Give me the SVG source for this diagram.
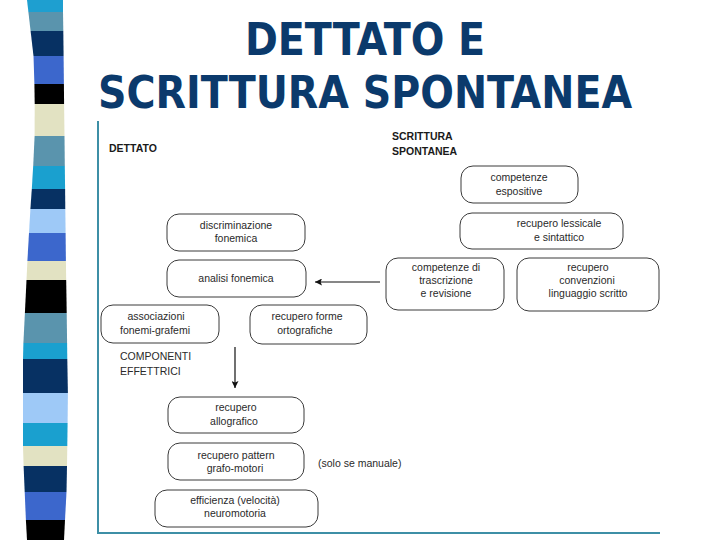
<svg xmlns="http://www.w3.org/2000/svg" width="720" height="540" viewBox="0 0 720 540">
<defs>
<style>
.title{font-family:"DejaVu Sans Condensed","Liberation Sans",Arial,sans-serif;font-weight:bold;font-size:44px;fill:#0b3a6c;text-anchor:middle}
.box{fill:#fff;stroke:#3a3a3a;stroke-width:1}
.t{font-family:"Liberation Sans",Arial,sans-serif;font-size:10.5px;fill:#2a2a2a;text-anchor:middle}
.h{font-family:"Liberation Sans",Arial,sans-serif;font-size:10.5px;font-weight:bold;fill:#1a1a1a}
.l{font-family:"Liberation Sans",Arial,sans-serif;font-size:10.5px;fill:#2a2a2a}
.conn{stroke:#111;stroke-width:1.2;fill:none}
.frame{stroke:#3d8fa6;stroke-width:2;fill:none}
</style>
<marker id="ah" viewBox="0 0 10 10" refX="10" refY="5" markerWidth="7" markerHeight="7" markerUnits="userSpaceOnUse" orient="auto">
<path d="M0,0 L10,5 L0,10 L2,5 Z" fill="#111"/>
</marker>
</defs>
<rect width="720" height="540" fill="#fff"/>
<g id="stripes">
<polygon points="27,0 63,0 63,12 28.4,12" fill="#1e9fd0"/>
<polygon points="28.4,12 63,12 63.3,31 30.6,31" fill="#5a94ad"/>
<polygon points="30.6,31 63.3,31 63.6,56 33.5,56" fill="#073163"/>
<polygon points="33.5,56 63.6,56 63.9,84 34.4,84" fill="#3c67cc"/>
<polygon points="34.4,84 63.9,84 64.1,104 34.7,104" fill="#000"/>
<polygon points="34.7,104 64.1,104 64.5,136 34.6,136" fill="#e2e2c2"/>
<polygon points="34.6,136 64.5,136 64.8,166 33.2,166" fill="#5a94ad"/>
<polygon points="33.2,166 64.8,166 65.1,189 31.8,189" fill="#1aa0cf"/>
<polygon points="31.8,189 65.1,189 65.3,209 30.4,209" fill="#073163"/>
<polygon points="30.4,209 65.3,209 65.6,233 29,233" fill="#9ec9f7"/>
<polygon points="29,233 65.6,233 65.9,261 27.4,261" fill="#3c67cc"/>
<polygon points="27.4,261 65.9,261 66.2,280 26.5,280" fill="#e2e2c2"/>
<polygon points="26.5,280 66.2,280 66.7,313 24.9,313" fill="#000"/>
<polygon points="24.9,313 66.7,313 67.1,343 23.4,343" fill="#5a94ad"/>
<polygon points="23.4,343 67.1,343 67.3,359 23,359" fill="#1aa0cf"/>
<polygon points="23,359 67.3,359 67.9,393 23,393" fill="#073163"/>
<polygon points="23,393 67.9,393 67.6,423 23,423" fill="#9ec9f7"/>
<polygon points="23,423 67.6,423 67.3,446 23,446" fill="#1aa0cf"/>
<polygon points="23,446 67.3,446 67,466 23.6,466" fill="#e2e2c2"/>
<polygon points="23.6,466 67,466 66.5,492 24.7,492" fill="#073163"/>
<polygon points="24.7,492 66.5,492 65,520 25.9,520" fill="#3c67cc"/>
<polygon points="25.9,520 65,520 64,540 27,540" fill="#000"/>
</g>
<g id="title">
<text class="title" x="365" y="55">DETTATO E</text>
<text class="title" x="365" y="108">SCRITTURA SPONTANEA</text>
</g>
<path class="frame" d="M98,121 V533 H660"/>
<g id="headers">
<text class="h" x="109" y="152">DETTATO</text>
<text class="h" x="392" y="140">SCRITTURA</text>
<text class="h" x="392" y="155">SPONTANEA</text>
<text class="l" x="120" y="360">COMPONENTI</text>
<text class="l" x="120" y="375">EFFETTRICI</text>
<text class="l" x="318" y="467">(solo se manuale)</text>
</g>
<g id="connectors">
<line class="conn" x1="380" y1="282" x2="315" y2="282" marker-end="url(#ah)"/>
<line class="conn" x1="235" y1="347" x2="235" y2="388" marker-end="url(#ah)"/>
</g>
<g id="n-competenze-espositive">
<rect class="box" x="461" y="166" width="117" height="37" rx="12"/>
<text class="t" x="519" y="181">competenze</text>
<text class="t" x="519" y="195">espositive</text>
</g>
<g id="n-recupero-lessicale">
<rect class="box" x="460" y="213" width="163" height="36" rx="12"/>
<text class="t" x="559" y="227">recupero lessicale</text>
<text class="t" x="559" y="241">e sintattico</text>
</g>
<g id="n-discriminazione">
<rect class="box" x="167" y="214" width="138" height="37" rx="12"/>
<text class="t" x="236" y="229">discriminazione</text>
<text class="t" x="236" y="242">fonemica</text>
</g>
<g id="n-analisi">
<rect class="box" x="167" y="260" width="139" height="37" rx="12"/>
<text class="t" x="236" y="282">analisi fonemica</text>
</g>
<g id="n-competenze-trascrizione">
<rect class="box" x="386" y="258" width="118" height="52" rx="12"/>
<text class="t" x="446" y="271">competenze di</text>
<text class="t" x="446" y="284">trascrizione</text>
<text class="t" x="446" y="297">e revisione</text>
</g>
<g id="n-recupero-convenzioni">
<rect class="box" x="517" y="258" width="142" height="53" rx="12"/>
<text class="t" x="588" y="271">recupero</text>
<text class="t" x="587" y="284">convenzioni</text>
<text class="t" x="588" y="297">linguaggio scritto</text>
</g>
<g id="n-associazioni">
<rect class="box" x="101" y="305" width="118" height="38" rx="12"/>
<text class="t" x="156" y="320">associazioni</text>
<text class="t" x="155" y="334">fonemi-grafemi</text>
</g>
<g id="n-recupero-forme">
<rect class="box" x="250" y="305" width="117" height="39" rx="12"/>
<text class="t" x="307" y="320">recupero forme</text>
<text class="t" x="305" y="334">ortografiche</text>
</g>
<g id="n-recupero-allografico">
<rect class="box" x="168" y="397" width="136" height="36" rx="12"/>
<text class="t" x="236" y="411">recupero</text>
<text class="t" x="234" y="425">allografico</text>
</g>
<g id="n-recupero-pattern">
<rect class="box" x="168" y="443" width="136" height="37" rx="12"/>
<text class="t" x="236" y="459">recupero pattern</text>
<text class="t" x="235" y="472">grafo-motori</text>
</g>
<g id="n-efficienza">
<rect class="box" x="155" y="490" width="163" height="37" rx="12"/>
<text class="t" x="235" y="504">efficienza (velocità)</text>
<text class="t" x="235" y="517">neuromotoria</text>
</g>
</svg>
